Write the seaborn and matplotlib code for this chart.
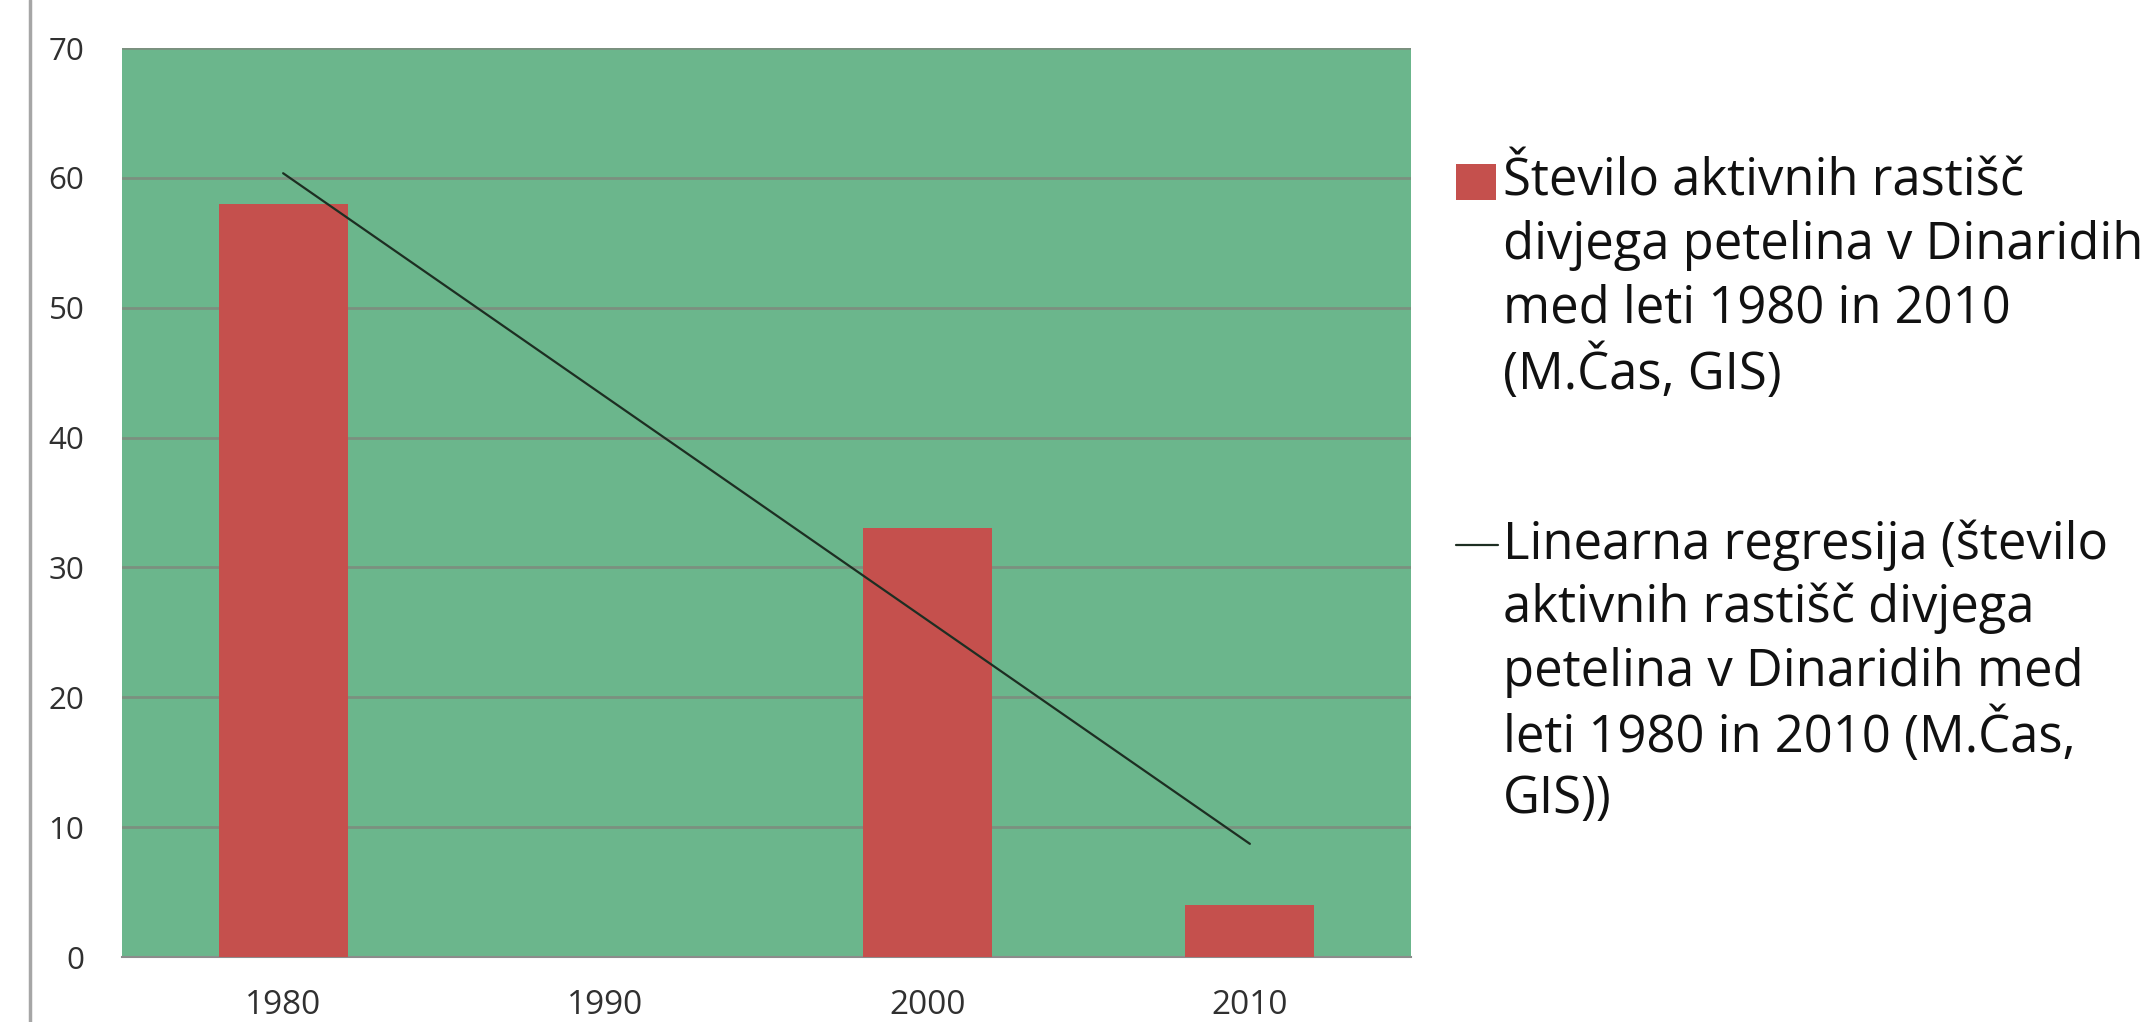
import numpy as np
import pandas as pd
import matplotlib
matplotlib.use("Agg")
import matplotlib.pyplot as plt
import seaborn as sns
from matplotlib.patches import Rectangle
from matplotlib.lines import Line2D

# ---- data ----
years = ["1980", "1990", "2000", "2010"]
counts = [58, np.nan, 33, 4]
y_ticks = [0, 10, 20, 30, 40, 50, 60, 70]
legend_bar_lines = ["Število aktivnih rastišč",
                    "divjega petelina v Dinaridih",
                    "med leti 1980 in 2010",
                    "(M.Čas, GIS)"]
legend_line_lines = ["Linearna regresija (število",
                     "aktivnih rastišč divjega",
                     "petelina v Dinaridih med",
                     "leti 1980 in 2010 (M.Čas,",
                     "GIS))"]

sns.set_theme(style="white")
plt.rcParams['font.family'] = ['Open Sans', 'DejaVu Sans']

W, H = 2149, 1022
fig = plt.figure(figsize=(W / 100, H / 100), dpi=100)
fig.patch.set_facecolor("white")

left, right, top, bottom = 122, 1411, 48, 957
ax = fig.add_axes([left / W, 1 - bottom / H, (right - left) / W, (bottom - top) / H])
ax.set_facecolor("#6BB68C")

bar_color = "#C5504D"
line_color = "#1d2e22"

df = pd.DataFrame({"year": years, "count": counts}).dropna()
sns.barplot(data=df, x="year", y="count", order=years, color=bar_color,
            saturation=1, width=0.4, linewidth=0, edgecolor="none", ax=ax, zorder=3)

# linear regression trend line over category positions
xi = np.array([years.index(y) for y in df["year"]], dtype=float)
coef = np.polyfit(xi, df["count"].to_numpy(dtype=float), 1)
xs = np.array([xi.min(), xi.max()])
ax.plot(xs, np.polyval(coef, xs), color=line_color, lw=1.6, zorder=4)

ax.set_xlim(-0.5, len(years) - 0.5)
ax.set_ylim(0, 70)
ax.set_yticks(y_ticks)
ax.set_xlabel("")
ax.set_ylabel("")
ax.set_axisbelow(True)
ax.yaxis.grid(True, color="#7b907f", lw=2)
ax.xaxis.grid(False)

for s in ["left", "right", "top"]:
    ax.spines[s].set_visible(False)
ax.spines["bottom"].set_color("#8c8c8c")
ax.spines["bottom"].set_linewidth(1.5)

ax.set_xticks(np.arange(len(years)))
ax.set_xticklabels(years)
ax.set_xticks(np.arange(-0.5, len(years)), minor=True)
ax.tick_params(axis="x", which="major", length=0, pad=23, labelsize=24, labelcolor="#303030")
ax.tick_params(axis="x", which="minor", length=11, width=1.2, color="#8c8c8c", direction="out")
ax.tick_params(axis="y", length=11, width=1.2, color="#8c8c8c", direction="out", pad=16,
               labelsize=22.5, labelcolor="#303030")

# left slide border line
fig.add_artist(Line2D([30 / W, 30 / W], [0, 1], color="#a6a6a6", lw=2.5, transform=fig.transFigure))

# ---- legend (manual, to match the multi-line layout) ----
tx = 1503
fs = 36.5
spacing = 63.6
y0 = 182
fig.add_artist(Rectangle((1456 / W, 1 - (y0 + 18) / H), 40 / W, 36 / H,
                         facecolor=bar_color, edgecolor="none", transform=fig.transFigure))
for i, t in enumerate(legend_bar_lines):
    fig.text(tx / W, 1 - (y0 + i * spacing) / H, t, fontsize=fs, va="center", ha="left", color="#111111")
y1 = 545
fig.add_artist(Line2D([1456 / W, 1498 / W], [1 - y1 / H, 1 - y1 / H], color=line_color, lw=1.6,
                      transform=fig.transFigure))
for i, t in enumerate(legend_line_lines):
    fig.text(tx / W, 1 - (y1 + i * spacing) / H, t, fontsize=fs, va="center", ha="left", color="#111111")

fig.savefig("out.png", dpi=100)
